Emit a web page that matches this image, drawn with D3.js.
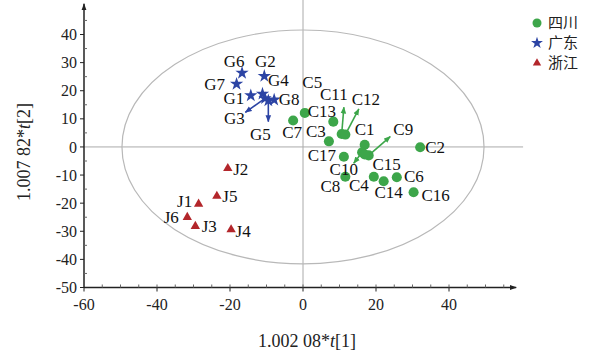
<!DOCTYPE html>
<html>
<head>
<meta charset="utf-8">
<script src="https://cdn.jsdelivr.net/npm/d3@7"></script>
<style>
    body { margin: 0; background: #fff; }
    svg { display: block; font-family: "Liberation Serif", "DejaVu Serif", serif; }
    .tick-label { font-size: 16px; fill: #222; }
    .pt-label { font-size: 17px; fill: #111; }
    .axis-title { font-size: 18px; fill: #222; }
    .legend-label { font-family: "Noto Sans CJK SC", sans-serif; font-size: 15px; fill: #222; }
</style>
</head>
<body>
<div class="chart-wrapper"></div>
<script>
// score values (t[1], t[2])
const sichuanIds = ["C1","C2","C3","C4","C5","C6","C7","C8","C9","C10","C11","C12","C13","C14","C15","C16","C17"];
const sichuanX = [16.9, 32.1, 7.1, 19.4, 8.3, 25.7, -2.7, 11.6, 18.0, 16.2, 10.6, 11.6, 0.5, 22.1, 16.9, 30.3, 11.2];
const sichuanY = [0.8, -0.1, 2.0, -10.6, 9.0, -10.8, 9.4, -10.6, -3.0, -1.9, 4.6, 4.4, 12.1, -12.2, -2.7, -16.1, -3.5];

const guangdongIds = ["G1","G2","G3","G4","G5","G6","G7","G8"];
const guangdongX = [-14.3, -10.6, -10.4, -11.1, -9.5, -16.7, -18.2, -7.9];
const guangdongY = [18.3, 25.2, 17.3, 18.9, 16.5, 26.3, 22.4, 16.8];

const zhejiangIds = ["J1","J2","J3","J4","J5","J6"];
const zhejiangX = [-28.6, -20.6, -29.5, -19.7, -23.6, -31.7];
const zhejiangY = [-20.3, -7.6, -28.2, -29.4, -17.5, -25.0];

// overlapping points whose labels are pulled out with an arrow (arrow tip in score units)
const arrowIds = ["C9","C10","C11","C12","G3","G5"];
const arrowX = [23.9, 13.9, 11.2, 15.3, -15.8, -9.5];
const arrowY = [3.7, -5.8, 14.1, 13.5, 12.3, 9.0];

// axis ticks and the confidence ellipse half axes
const xTicks = [-60, -40, -20, 0, 20, 40];
const yTicks = [40, 30, 20, 10, 0, -10, -20, -30, -40, -50];
const ellipseRx = 49.6;
const ellipseRy = 41.6;

const legendNames = ["四川", "广东", "浙江"];

// label placement (px from point or arrow tip)
const labelOffset = {
    C1: [0, -16], C2: [15, 0], C3: [-13, -10], C4: [-15, 8], C5: [-21, -40], C6: [17, -1],
    C7: [-1, 12], C8: [-15, 9], C9: [13, -7], C10: [-10, 6], C11: [-10, -13], C12: [7, -10],
    C13: [17, -2], C14: [5, 11], C15: [22, 10], C16: [22, 3], C17: [-22, -2],
    G1: [-17, 3], G2: [1, -15], G3: [-11, 6], G4: [16, -14], G5: [-8, 12], G6: [-8, -12],
    G7: [-22, 0], G8: [15, -1],
    J1: [-14, -3], J2: [13, 1], J3: [14, 0], J4: [12, 1], J5: [13, 0], J6: [-16, 0]
};

const groups = [
    { ids: sichuanIds, xs: sichuanX, ys: sichuanY, color: "#3da64a", shape: d3.symbolCircle, size: 80 },
    { ids: guangdongIds, xs: guangdongX, ys: guangdongY, color: "#2c44a4", shape: d3.symbolStar, size: 55 },
    { ids: zhejiangIds, xs: zhejiangX, ys: zhejiangY, color: "#b3262b", shape: d3.symbolTriangle, size: 38 }
];

const svgWidth = 592;
const svgHeight = 354;

const svg = d3.select(".chart-wrapper")
    .append("svg")
    .attr("width", svgWidth)
    .attr("height", svgHeight);

const x = d3.scaleLinear().domain([-60, 40]).range([84, 449]);
const y = d3.scaleLinear().domain([-50, 40]).range([287.5, 34.5]);

// arrow heads
const defs = svg.append("defs");
defs.append("marker")
    .attr("id", "axis-head")
    .attr("viewBox", "0 0 10 10")
    .attr("refX", 9).attr("refY", 5)
    .attr("markerWidth", 7).attr("markerHeight", 7)
    .attr("markerUnits", "userSpaceOnUse")
    .attr("orient", "auto")
    .append("path")
    .attr("d", "M0,1.5 L10,5 L0,8.5 Z")
    .attr("fill", "#222");

groups.forEach((g, i) => {
    defs.append("marker")
        .attr("id", "head-" + i)
        .attr("viewBox", "0 0 10 10")
        .attr("refX", 9).attr("refY", 5)
        .attr("markerWidth", 7).attr("markerHeight", 7)
        .attr("markerUnits", "userSpaceOnUse")
        .attr("orient", "auto")
        .append("path")
        .attr("d", "M0,1 L10,5 L0,9 Z")
        .attr("fill", g.color);
});

// zero lines
svg.append("line")
    .attr("x1", x(-60)).attr("x2", x(60.3))
    .attr("y1", y(0)).attr("y2", y(0))
    .attr("stroke", "#aaa").attr("stroke-width", 1);

svg.append("line")
    .attr("x1", x(0)).attr("x2", x(0))
    .attr("y1", y(-50)).attr("y2", y(52.5))
    .attr("stroke", "#aaa").attr("stroke-width", 1);

// confidence ellipse
svg.append("ellipse")
    .attr("cx", x(0)).attr("cy", y(0))
    .attr("rx", x(ellipseRx) - x(0))
    .attr("ry", y(0) - y(ellipseRy))
    .attr("fill", "none")
    .attr("stroke", "#b8b8b8")
    .attr("stroke-width", 1.2);

// x axis
svg.append("line")
    .attr("x1", x(-60)).attr("x2", x(58.4))
    .attr("y1", y(-50)).attr("y2", y(-50))
    .attr("stroke", "#222").attr("stroke-width", 1.5)
    .attr("marker-end", "url(#axis-head)");

svg.selectAll(".x-minor")
    .data(d3.range(-55, 56, 5))
    .enter()
    .append("line")
    .attr("x1", d => x(d)).attr("x2", d => x(d))
    .attr("y1", y(-50)).attr("y2", y(-50) - 3)
    .attr("stroke", "#666");

svg.selectAll(".x-tick")
    .data(xTicks)
    .enter()
    .append("line")
    .attr("x1", d => x(d)).attr("x2", d => x(d))
    .attr("y1", y(-50)).attr("y2", y(-50) + 4)
    .attr("stroke", "#222");

svg.selectAll(".x-label")
    .data(xTicks)
    .enter()
    .append("text")
    .attr("class", "tick-label")
    .attr("x", d => x(d))
    .attr("y", y(-50) + 22)
    .attr("text-anchor", "middle")
    .text(d => d);

// y axis
svg.append("line")
    .attr("x1", x(-60)).attr("x2", x(-60))
    .attr("y1", y(-50)).attr("y2", y(50.9))
    .attr("stroke", "#222").attr("stroke-width", 1.5)
    .attr("marker-end", "url(#axis-head)");

svg.selectAll(".y-minor")
    .data(d3.range(-45, 46, 10))
    .enter()
    .append("line")
    .attr("x1", x(-60)).attr("x2", x(-60) + 3)
    .attr("y1", d => y(d)).attr("y2", d => y(d))
    .attr("stroke", "#666");

svg.selectAll(".y-tick")
    .data(yTicks)
    .enter()
    .append("line")
    .attr("x1", x(-60) - 4).attr("x2", x(-60))
    .attr("y1", d => y(d)).attr("y2", d => y(d))
    .attr("stroke", "#222");

svg.selectAll(".y-label")
    .data(yTicks)
    .enter()
    .append("text")
    .attr("class", "tick-label")
    .attr("x", x(-60) - 7)
    .attr("y", d => y(d))
    .attr("dy", "0.35em")
    .attr("text-anchor", "end")
    .text(d => d);

// axis titles with italic t
const xTitle = svg.append("text")
    .attr("class", "axis-title")
    .attr("x", 307).attr("y", 347)
    .attr("text-anchor", "middle");
xTitle.append("tspan").text("1.002 08*");
xTitle.append("tspan").style("font-style", "italic").text("t");
xTitle.append("tspan").text("[1]");

const yTitle = svg.append("text")
    .attr("class", "axis-title")
    .attr("transform", "translate(30,152) rotate(-90)")
    .attr("text-anchor", "middle");
yTitle.append("tspan").text("1.007 82*");
yTitle.append("tspan").style("font-style", "italic").text("t");
yTitle.append("tspan").text("[2]");

// points, arrows and labels
groups.forEach((g, gi) => {
    const rows = g.ids.map((id, i) => {
        const a = arrowIds.indexOf(id);
        return {
            id: id,
            px: x(g.xs[i]), py: y(g.ys[i]),
            tx: a >= 0 ? x(arrowX[a]) : null,
            ty: a >= 0 ? y(arrowY[a]) : null
        };
    });

    const layer = svg.append("g");

    layer.selectAll(".arrow")
        .data(rows.filter(d => d.tx !== null))
        .enter()
        .append("line")
        .attr("x1", d => d.px).attr("y1", d => d.py)
        .attr("x2", d => d.tx).attr("y2", d => d.ty)
        .attr("stroke", g.color)
        .attr("stroke-width", 1.6)
        .attr("marker-end", `url(#head-${gi})`);

    layer.selectAll(".mark")
        .data(rows)
        .enter()
        .append("path")
        .attr("transform", d => `translate(${d.px},${d.py})`)
        .attr("d", d3.symbol().type(g.shape).size(g.size))
        .attr("fill", g.color);

    layer.selectAll(".pt-label")
        .data(rows)
        .enter()
        .append("text")
        .attr("class", "pt-label")
        .attr("x", d => (d.tx !== null ? d.tx : d.px) + labelOffset[d.id][0])
        .attr("y", d => (d.ty !== null ? d.ty : d.py) + labelOffset[d.id][1])
        .attr("dy", "0.35em")
        .attr("text-anchor", "middle")
        .text(d => d.id);
});

// legend
const legend = svg.append("g").attr("transform", "translate(537,23)");
groups.forEach((g, i) => {
    legend.append("path")
        .attr("transform", `translate(0,${i * 20})`)
        .attr("d", d3.symbol().type(g.shape).size(g.size * 0.8))
        .attr("fill", g.color);
    legend.append("text")
        .attr("class", "legend-label")
        .attr("x", 11)
        .attr("y", i * 20)
        .attr("dy", "0.35em")
        .text(legendNames[i]);
});
</script>
</body>
</html>
